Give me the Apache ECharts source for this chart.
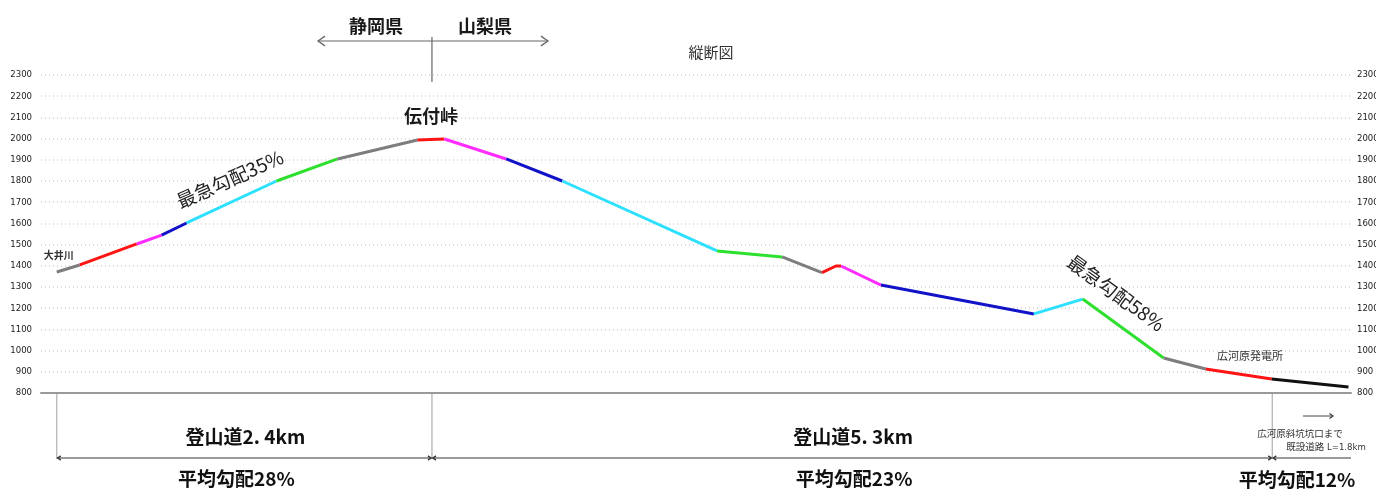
<!DOCTYPE html>
<html lang="ja">
<head>
<meta charset="utf-8" />
<script src="https://cdn.jsdelivr.net/npm/echarts@6/dist/echarts.min.js"></script>
<style>
  html, body { margin: 0; padding: 0; background: #fff; }
  #main { width: 1376px; height: 490px; }
</style>
</head>
<body>
<div id="main"></div>
<script>
// 縦断図: 距離(km) と 標高(m)
var distKm = [0, 0.146, 0.508, 0.666, 0.825, 1.396, 1.783, 2.291, 2.462, 2.855, 3.211,
              4.194, 4.607, 4.860, 4.949, 4.981, 5.235, 6.206, 6.516, 7.030, 7.297, 7.716, 8.204];
var elevM  = [1371, 1404, 1503, 1545, 1602, 1800, 1904, 1993, 1998, 1904, 1800,
              1470, 1442, 1368, 1399, 1399, 1309, 1173, 1243, 965, 913, 866, 828];

// 色分け区間 (開始点のindex) と色
var segStart = [0, 1, 2, 3, 4, 5, 6, 7, 8, 9, 10, 11, 12, 13, 15, 16, 17, 18, 19, 20, 21];
var segColor = ['gray', 'red', 'magenta', 'blue', 'cyan', 'green', 'gray', 'red', 'magenta', 'blue',
                'cyan', 'green', 'gray', 'red', 'magenta', 'blue', 'cyan', 'green', 'gray', 'red', 'black'];
var colorMap = {
  gray: '#7d7d7d', red: '#ff1414', magenta: '#ff2cff', blue: '#1212c8',
  cyan: '#2ee0ff', green: '#2ee02e', black: '#111111'
};

// 目盛
var yMin = 800, yMax = 2300, yStep = 100;

// 区間 (km) と注記
var sectionKm = [0, 2.383, 7.72];
var sectionName = ['登山道2. 4km', '登山道5. 3km'];
var sectionGrade = ['平均勾配28%', '平均勾配23%', '平均勾配12%'];

var CJK = '"Noto Sans CJK JP", "Noto Sans", sans-serif';
var NARROW = '"Liberation Sans Narrow", "DejaVu Sans Condensed", "Liberation Sans", sans-serif';

var chart = echarts.init(document.getElementById('main'));

var series = [];
for (var s = 0; s < segStart.length; s++) {
  var a = segStart[s];
  var b = (s + 1 < segStart.length) ? segStart[s + 1] : distKm.length - 1;
  var pts = [];
  for (var i = a; i <= b; i++) pts.push([distKm[i], elevM[i]]);
  series.push({
    type: 'line',
    data: pts,
    showSymbol: false,
    symbol: 'none',
    lineStyle: { color: colorMap[segColor[s]], width: 3 },
    z: 5
  });
}

var yLabel = {
  fontFamily: NARROW, fontSize: 9.5, color: '#1a1a1a',
  padding: [0, 0, 6, 0],
  formatter: function (v) { return String(v); }
};

chart.setOption({
  animation: false,
  grid: { left: 41, right: 25, top: 75, bottom: 97, containLabel: false, outerBoundsMode: 'none' },
  xAxis: {
    type: 'value', min: -0.1, max: 8.22,
    axisLine: { show: true, onZero: false, lineStyle: { color: '#9a9a9a', width: 2 } },
    axisTick: { show: false }, axisLabel: { show: false }, splitLine: { show: false }
  },
  yAxis: [{
    type: 'value', min: yMin, max: yMax, interval: yStep, position: 'left',
    axisLine: { show: false }, axisTick: { show: false },
    axisLabel: Object.assign({ margin: 9 }, yLabel),
    splitLine: { show: true, lineStyle: { color: '#cfcfcf', type: [1, 3], width: 1.5 } }
  }, {
    type: 'value', min: yMin, max: yMax, interval: yStep, position: 'right',
    axisLine: { show: false }, axisTick: { show: false },
    axisLabel: Object.assign({ margin: 6 }, yLabel),
    splitLine: { show: false }
  }],
  series: series
});

function px(km, m) { return chart.convertToPixel({ gridIndex: 0 }, [km, m]); }
function txt(x, y, text, size, opt) {
  opt = opt || {};
  return {
    type: 'text', x: x, y: y, rotation: opt.rot || 0, z: 20,
    style: {
      text: text, fill: opt.color || '#1a1a1a',
      font: (opt.weight ? opt.weight + ' ' : '') + size + 'px ' + (opt.family || CJK),
      align: opt.align || 'center', verticalAlign: 'middle'
    }
  };
}
function line(x1, y1, x2, y2, color, w) {
  return { type: 'line', z: 10, shape: { x1: x1, y1: y1, x2: x2, y2: y2 },
           style: { stroke: color, lineWidth: w } };
}
function chevron(x, y, dir, color, size) {
  return { type: 'polyline', z: 10,
           shape: { points: [[x - dir * size, y - size * 0.7], [x, y], [x - dir * size, y + size * 0.7]] },
           style: { stroke: color, lineWidth: 1.3, fill: null } };
}

var base = px(0, yMin)[1];
var xs = sectionKm.map(function (k) { return px(k, yMin)[0]; });
var xEnd = px(8.22, yMin)[0];
var dimY = 458;
var g = [];

// 上部: 県境
g.push(line(xs[1], 37, xs[1], 82, '#666', 1.2));
g.push(line(318, 41, 548, 41, '#666', 1.2));
g.push(chevron(318, 41, -1, '#666', 7));
g.push(chevron(548, 41, 1, '#666', 7));
g.push(txt(376, 26, '静岡県', 18, { weight: 'bold' }));
g.push(txt(485, 26, '山梨県', 18, { weight: 'bold' }));
g.push(txt(711, 52, '縦断図', 15, { color: '#333' }));

// 地名・注記
var peak = px(2.383, 1998);
g.push(txt(peak[0] - 1, 116, '伝付峠', 18, { weight: 'bold' }));
var oi = px(0, 1371);
g.push(txt(oi[0] - 13, oi[1] - 17, '大井川', 10, { weight: 'bold', align: 'left', color: '#333' }));
g.push(txt(1250, 356, '広河原発電所', 11, { color: '#333' }));
g.push(txt(230, 179, '最急勾配35%', 19, { rot: 24 * Math.PI / 180, color: '#222' }));
g.push(txt(1116, 293, '最急勾配58%', 19, { rot: -36 * Math.PI / 180, color: '#222' }));

// 下部: 区間寸法線
xs.forEach(function (x) { g.push(line(x, base + 1, x, dimY + 1, '#b5b5b5', 1.3)); });
g.push(line(xs[0], dimY, xEnd, dimY, '#9a9a9a', 2));
xs.forEach(function (x, i) {
  if (i > 0) g.push(chevron(x - 1, dimY, 1, '#333', 3));
  g.push(chevron(x + 1, dimY, -1, '#333', 3));
});
for (var k = 0; k < sectionName.length; k++) {
  var mid = (xs[k] + xs[k + 1]) / 2;
  g.push(txt(mid + 1, 437, sectionName[k], 19, { weight: 'bold', color: '#111' }));
  g.push(txt(mid - 8 + k * 10, 479, sectionGrade[k], 19, { weight: 'bold', color: '#111' }));
}
g.push(txt(1297, 480, sectionGrade[2], 19, { weight: 'bold', color: '#111' }));

// 既設道路
g.push(line(1303, 416, 1333, 416, '#444', 1));
g.push(chevron(1333, 416, 1, '#444', 3.5));
g.push(txt(1300, 433, '広河原斜坑坑口まで', 9.5, { color: '#333' }));
g.push(txt(1326, 448, '既設道路 L=1.8km', 9.5, { color: '#333', family: NARROW + ', ' + CJK }));

chart.setOption({ graphic: { elements: g } });
</script>
</body>
</html>
